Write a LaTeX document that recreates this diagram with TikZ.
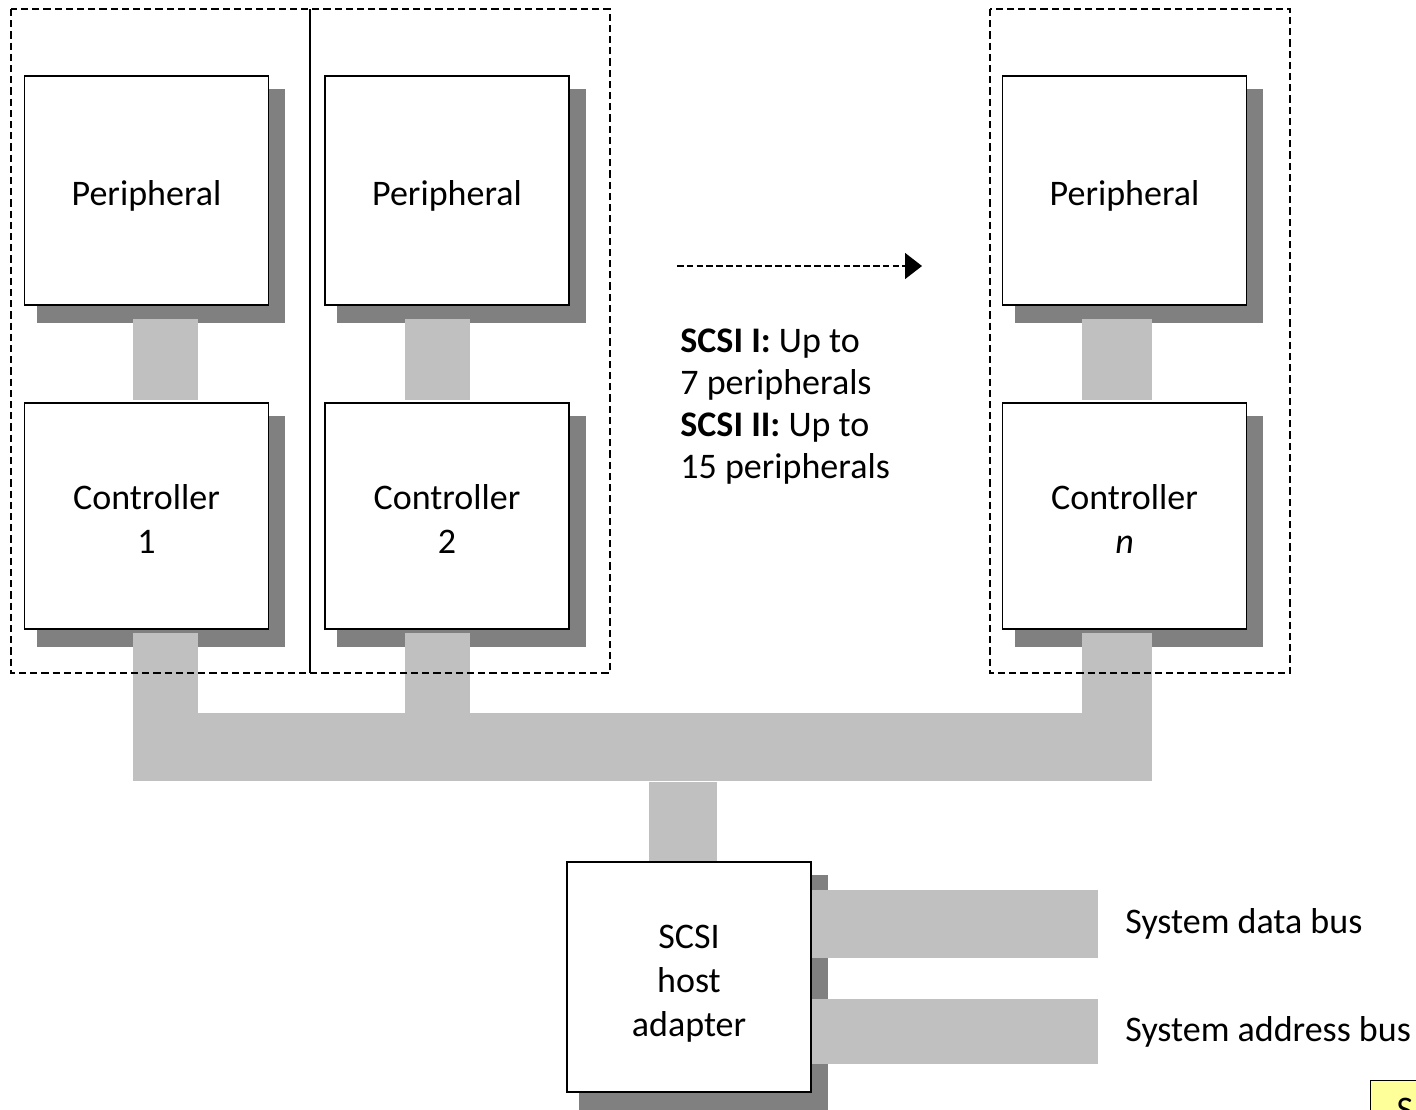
\documentclass[tikz,border=0pt]{standalone}
\usepackage{fontspec}
\setmainfont{Carlito}
\usetikzlibrary{arrows.meta,calc}
\definecolor{busgray}{HTML}{C0C0C0}
\definecolor{shadowgray}{HTML}{808080}
\definecolor{noteyellow}{HTML}{FFFF99}
\pgfdeclarelayer{shadowl}
\pgfdeclarelayer{connl}
\pgfsetlayers{shadowl,connl,main}
\begin{document}
\begin{tikzpicture}[x=0.5pt,y=-0.5pt,
  box/.style={draw=black, line width=0.75pt, fill=white, inner sep=0pt},
  pbox/.style={box, minimum width=122pt, minimum height=114.5pt},
  cbox/.style={box, minimum width=122pt, minimum height=113pt},
  hbox/.style={box, minimum width=122pt, minimum height=115pt},
  boxtext/.style={inner sep=0pt, align=center, font=\fontsize{18}{22}\selectfont},
  conn/.style={draw=busgray, line width=#1},
  frame/.style={draw=black, line width=0.85pt, dash pattern=on 3.6pt off 2pt},
  lbl/.style={inner sep=0pt, font=\fontsize{18}{21}\selectfont},
  shadowfill/.style={fill=shadowgray}
]
\useasboundingbox (0,0) rectangle (1416,1109);

% boxes
\node[pbox] (p1) at (146.5,190.5) {};
\node[pbox] (p2) at (447,190.5) {};
\node[pbox] (p3) at (1124.5,190.5) {};
\node[cbox] (c1) at (146.5,516) {};
\node[cbox] (c2) at (447,516) {};
\node[cbox] (c3) at (1124.5,516) {};
\node[hbox] (h) at (689,977) {};

% box texts
\node[boxtext] (p1t) at ([yshift=-2.5pt]p1.center) {Peripheral};
\node[boxtext] (p2t) at ([yshift=-2.5pt]p2.center) {Peripheral};
\node[boxtext] (p3t) at ([yshift=-2.5pt]p3.center) {Peripheral};
\node[boxtext] (c1t) at ([yshift=-1.5pt]c1.center) {Controller\\1};
\node[boxtext] (c2t) at ([yshift=-1.5pt]c2.center) {Controller\\2};
\node[boxtext] (c3t) at ([yshift=-1.5pt]c3.center) {Controller\\\textit{n}};
\node[boxtext] (ht) at ([yshift=-3.5pt]h.center) {SCSI\\host\\adapter};

% bus
\node[fill=busgray, minimum width=509.2pt, minimum height=34pt, inner sep=0pt] (bus) at (642.5,747.4) {};

% shadows
\begin{pgfonlayer}{shadowl}
\foreach \n in {p1,p2,p3,c1,c2,c3,h}{
  \fill[shadowfill] ([shift={(13,14)}]\n.north west) rectangle ([shift={(16,17)}]\n.south east);
}
\end{pgfonlayer}

% connectors
\begin{pgfonlayer}{connl}
\draw[conn=32.5pt] ([shift={(19.3,13)}]p1.south) -- ([shift={(19.3,-2.5)}]c1.north);
\draw[conn=32.5pt] ([shift={(-9.2,13)}]p2.south) -- ([shift={(-9.2,-2.5)}]c2.north);
\draw[conn=34.8pt] ([shift={(-7.6,13)}]p3.south) -- ([shift={(-7.6,-2.5)}]c3.north);
\coordinate (b1) at ($(c1.south)+(19.3,3)$);
\coordinate (b2) at ($(c2.south)+(-9.2,3)$);
\coordinate (b3) at ($(c3.south)+(-7.6,3)$);
\draw[conn=32.5pt] (b1) -- (b1 |- bus.north);
\draw[conn=32.5pt] (b2) -- (b2 |- bus.north);
\draw[conn=34.8pt] (b3) -- (b3 |- bus.north);
\coordinate (bt) at ($(bus.south)+(40.2,0)$);
\draw[conn=34pt] (bt) -- (bt |- h.north);
\coordinate (dbe) at (1098,924);
\coordinate (abe) at (1098,1031.5);
\draw[conn=33.8pt] (h.east |- dbe) -- (dbe);
\draw[conn=32.5pt] (h.east |- abe) -- (abe);
\end{pgfonlayer}

% dashed frames
\draw[frame] (11,9) rectangle (610,673);
\draw[line width=0.7pt] (310,9) -- (310,673);
\draw[frame] (990,9) rectangle (1290,673);

% arrow
\coordinate (as) at (677,266);
\coordinate (ae) at (922,266);
\draw[line width=0.7pt, dash pattern=on 3.3pt off 1.6pt, -{Triangle[length=8.5pt,width=13pt]}] (as) -- (ae);

% note text
\node[anchor=north west, inner sep=0pt, align=left, font=\fontsize{18}{21}\selectfont] (txt) at (680,328)
  {\textbf{SCSI I:} Up to\\7 peripherals\\\textbf{SCSI II:} Up to\\15 peripherals};

% bus labels
\node[lbl, anchor=west] (dl) at (1125,924) {System data bus};
\node[lbl, anchor=west] (al) at (1125,1032) {System address bus};

% partial yellow note at the corner
\begin{scope}
\clip (0,0) rectangle (1416,1109);
\node[draw=black, line width=0.5pt, fill=noteyellow, anchor=north west, inner xsep=13pt, inner ysep=9pt,
  text width=40pt, align=left, font=\fontsize{18}{21}\selectfont] (corner) at (1370,1080) {S};
\end{scope}
\end{tikzpicture}
\end{document}
